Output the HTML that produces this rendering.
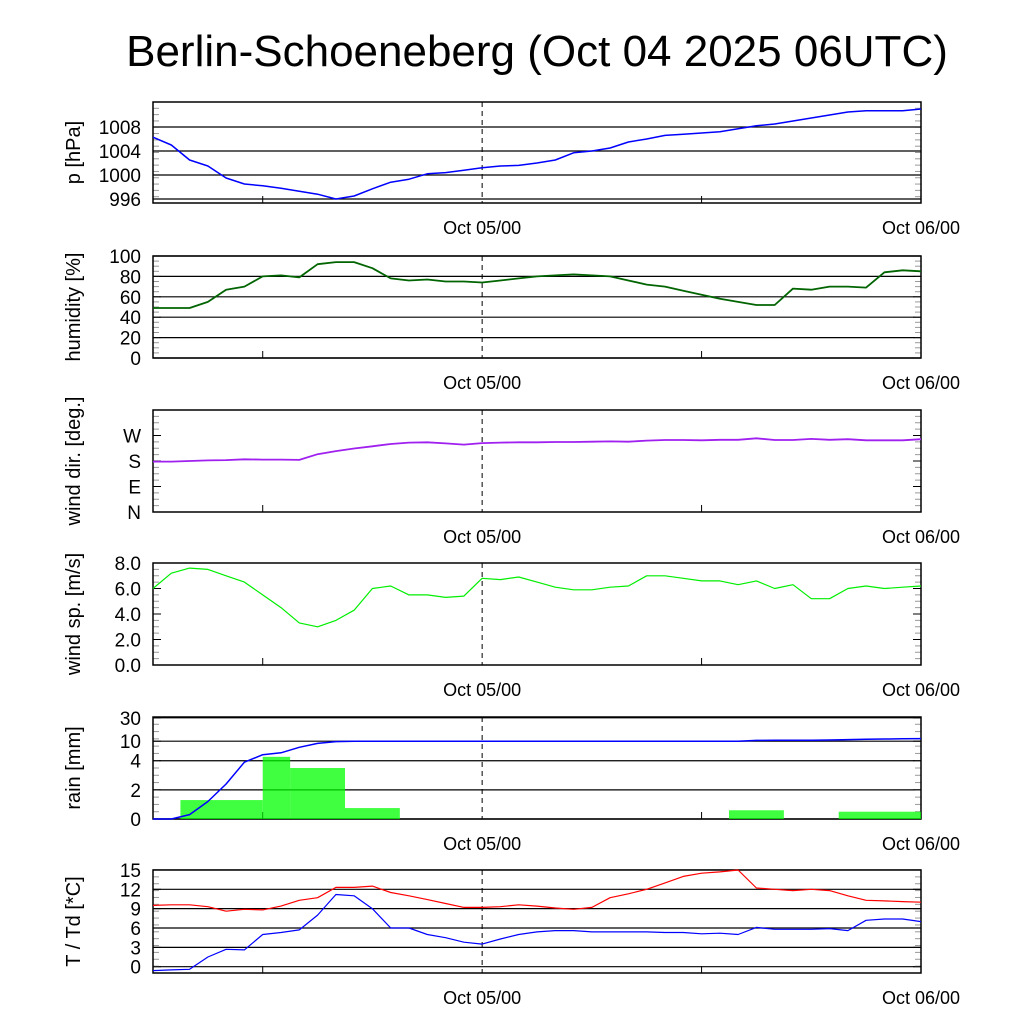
<!DOCTYPE html>
<html><head><meta charset="utf-8"><style>
html,body{margin:0;padding:0;background:#fff;}
svg{display:block;font-family:"Liberation Sans",sans-serif;}
</style></head><body>
<svg id="c" width="1024" height="1024" viewBox="0 0 1024 1024">
<rect width="1024" height="1024" fill="#fff"/>
<text x="537" y="66" font-size="44" text-anchor="middle">Berlin-Schoeneberg (Oct 04 2025 06UTC)</text>
</svg>
<script>
const hours = [0,1,2,3,4,5,6,7,8,9,10,11,12,13,14,15,16,17,18,19,20,21,22,23,24,25,26,27,28,29,30,31,32,33,34,35,36,37,38,39,40,41,42];
const pressure = [1006.3,1005,1002.5,1001.5,999.5,998.5,998.2,997.8,997.3,996.8,996,996.5,997.7,998.8,999.3,1000.2,1000.4,1000.8,1001.2,1001.5,1001.6,1002,1002.5,1003.7,1004,1004.5,1005.5,1006,1006.6,1006.8,1007,1007.2,1007.7,1008.2,1008.5,1009,1009.5,1010,1010.5,1010.7,1010.7,1010.7,1011];
const humidity = [49,49,49,55,67,70,80,81,79,92,94,94,88,78,76,77,75,75,74,76,78,80,81,82,81,80,76,72,70,66,62,58,55,52,52,68,67,70,70,69,84,86,85];
const windDir = [178,178,180,182,183,186,185,185,184,204,215,224,232,240,245,246,242,238,243,245,246,246,247,247,248,249,248,252,254,254,253,255,255,260,254,254,258,255,257,253,253,253,257];
const windSpeed = [6.0,7.2,7.6,7.5,7.0,6.5,5.5,4.5,3.3,3.0,3.5,4.3,6.0,6.2,5.5,5.5,5.3,5.4,6.8,6.7,6.9,6.5,6.1,5.9,5.9,6.1,6.2,7.0,7.0,6.8,6.6,6.6,6.3,6.6,6.0,6.3,5.2,5.2,6.0,6.2,6.0,6.1,6.2];
const rainCum = [0,0,0.3,1.2,2.4,3.9,5.3,5.8,7.5,9,9.8,10,10,10,10,10,10,10,10,10,10,10,10,10,10,10,10,10,10,10,10,10,10,10.4,10.5,10.5,10.5,10.6,10.8,11,11.1,11.2,11.3];
const rainBarStart = [1.5,6,7.5,10.5,31.5,37.5];
const rainBarEnd = [6,7.5,10.5,13.5,34.5,42];
const rainBarValue = [1.3,4.8,3.5,0.75,0.6,0.5];
const temp = [9.5,9.6,9.6,9.3,8.6,8.9,8.8,9.4,10.3,10.7,12.3,12.3,12.5,11.5,11,10.4,9.8,9.2,9.2,9.3,9.6,9.4,9.1,8.9,9.2,10.7,11.3,12,13,14,14.5,14.7,15,12.2,12,11.8,12,11.8,11,10.3,10.2,10.1,10];
const dew = [-0.6,-0.5,-0.4,1.5,2.7,2.6,5,5.3,5.7,8,11.2,11,9,6,6,5,4.5,3.8,3.5,4.3,5,5.4,5.6,5.6,5.4,5.4,5.4,5.4,5.3,5.3,5.1,5.2,5,6.1,5.8,5.8,5.8,5.9,5.6,7.2,7.4,7.4,7];
const pTicks = [996,1000,1004,1008];
const hTicks = [0,20,40,60,80,100];
const dTicks = [0,90,180,270]; const dLabels=["N","E","S","W"];
const sTicks = [0,2,4,6,8]; const sLabels=["0.0","2.0","4.0","6.0","8.0"];
const rTicks = [0,2,4,10,30];
const tTicks = [0,3,6,9,12,15];

const svg=document.getElementById('c');const NS='http://www.w3.org/2000/svg';
const X0=153,X1=921;
const xs=h=>X0+h*(X1-X0)/42;
function mk(tag,attrs,name,parent){const e=document.createElementNS(NS,tag);for(const k in attrs)e.setAttribute(k,attrs[k]);


(parent||svg).appendChild(e);return e;}
function panel(key,top,bot,ys,ticks,labels,grid,title,minorN){
  const g=mk('g',{},key+'-panel');
  if(grid) ticks.forEach(v=>mk('line',{x1:X0,x2:X1,y1:ys(v),y2:ys(v),stroke:'#000','stroke-width':1.2},key+'-gridline',g));
  const step=(bot-top)/minorN;
  for(let i=1;i<minorN;i++){const y=top+i*step;
    mk('line',{x1:X0,x2:X0+6,y1:y,y2:y,stroke:'#999','stroke-width':1},key+'-minor-tick',g);
    mk('line',{x1:X1-6,x2:X1,y1:y,y2:y,stroke:'#999','stroke-width':1},key+'-minor-tick',g);}
  ticks.forEach((v,i)=>{const y=ys(v);
    mk('line',{x1:X0,x2:X0+8,y1:y,y2:y,stroke:'#000'},key+'-tick',g);
    mk('line',{x1:X1-8,x2:X1,y1:y,y2:y,stroke:'#000'},key+'-tick',g);
    const t=mk('text',{x:141,y:y+7,'font-size':19,'text-anchor':'end'},key+'-tick-label',g);t.textContent=labels?labels[i]:v;});
  [6,30].forEach(h=>mk('line',{x1:xs(h),x2:xs(h),y1:bot,y2:bot-7,stroke:'#000'},key+'-x-tick',g));
  mk('line',{x1:xs(18),x2:xs(18),y1:top,y2:bot,stroke:'#000','stroke-dasharray':'5,4'},key+'-midnight-line',g);
  mk('rect',{x:X0,y:top,width:X1-X0,height:bot-top,fill:'none',stroke:'#000','stroke-width':1.5},key+'-frame',g);
  [[18,'Oct 05/00'],[42,'Oct 06/00']].forEach(([h,s])=>{const t=mk('text',{x:xs(h),y:bot+31,'font-size':18,'text-anchor':'middle'},key+'-x-label',g);t.textContent=s;});
  const cy=(top+bot)/2;const t=mk('text',{x:0,y:0,'font-size':20,'text-anchor':'middle',transform:`translate(80,${cy}) rotate(-90)`},key+'-y-axis-title',g);t.textContent=title;
  return g;
}
function line(g,arr,ys,color,name,w){const d=arr.map((v,i)=>(i?'L':'M')+xs(hours[i]).toFixed(1)+','+ys(v).toFixed(1)).join('');
  mk('path',{d,fill:'none',stroke:color,'stroke-width':w||1.5,'stroke-linejoin':'round'},name,g);}

let ys=v=>175-(v-1000)*6;
let g=panel('pressure',102,203,ys,pTicks,null,true,'p [hPa]',16);
line(g,pressure,ys,'#0000ff','pressure-line');
ys=v=>358-v*1.02;
g=panel('humidity',256,358,ys,hTicks,null,true,'humidity [%]',20);
line(g,humidity,ys,'#006400','humidity-line',1.8);
ys=v=>512-v*102/360;
g=panel('wind-dir',410,512,ys,dTicks,dLabels,false,'wind dir. [deg.]',16);
line(g,windDir,ys,'#a020f0','wind-direction-line',1.8);
ys=v=>665-v*12.75;
g=panel('wind-speed',563,665,ys,sTicks,sLabels,false,'wind sp. [m/s]',16);
line(g,windSpeed,ys,'#00ee00','wind-speed-line',1.2);
ys=v=> v<=4 ? 819-v*14.57 : 760.7-Math.log10(v/4)*49;
g=panel('rain',717,819,ys,rTicks,null,true,'rain [mm]',14);
rainBarValue.forEach((v,i)=>{const y=ys(v);mk('rect',{x:xs(rainBarStart[i]),y:y,width:xs(rainBarEnd[i])-xs(rainBarStart[i]),height:819-y,fill:'#00ff00','fill-opacity':0.75},'rain-bar',g);});
line(g,rainCum,ys,'#0000ff','rain-cumulative-line');
ys=v=>966.7-v*6.45;
g=panel('temperature',870,973,ys,tTicks,null,true,'T / Td [*C]',15);
line(g,temp,ys,'#ff0000','temperature-line',1.2);
line(g,dew,ys,'#0000ff','dewpoint-line',1.2);
</script>
</body></html>
